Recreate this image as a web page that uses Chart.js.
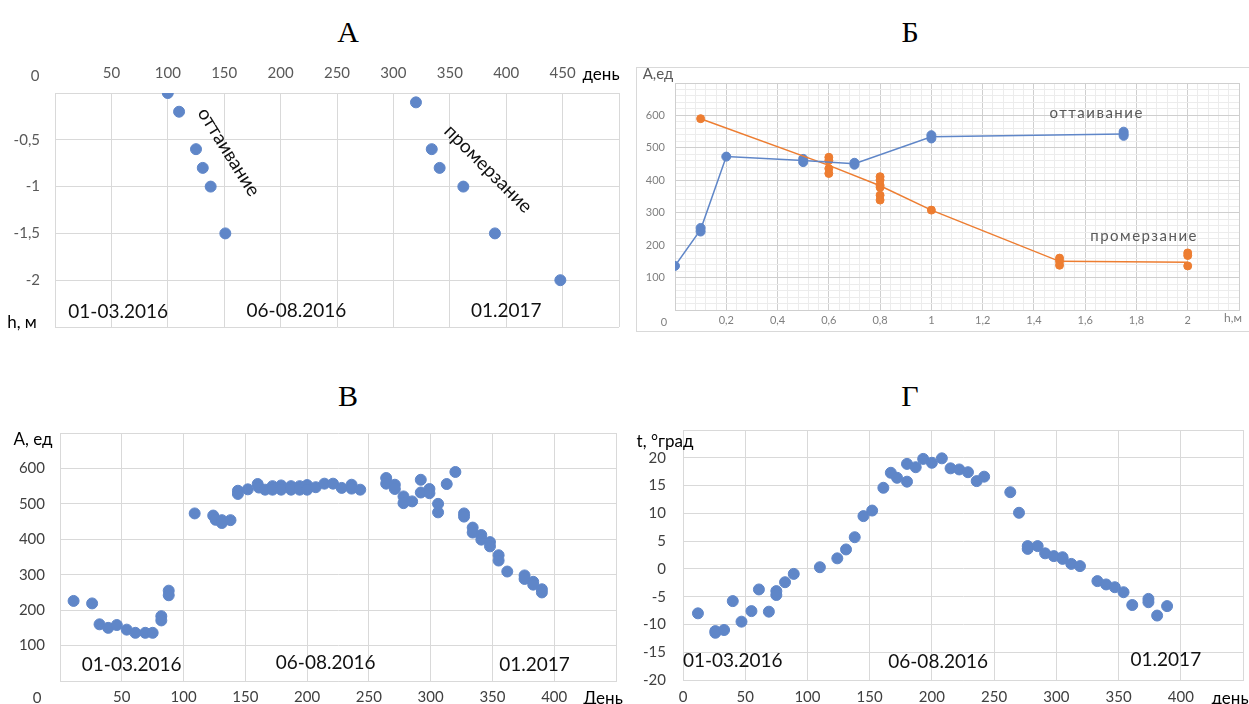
<!DOCTYPE html>
<html lang="ru">
<head>
<meta charset="utf-8">
<script src="https://cdn.jsdelivr.net/npm/chart.js@4.4.0/dist/chart.umd.min.js"></script>
<style>
  body { margin: 0; background: #fff; width: 1249px; height: 704px; overflow: hidden; position: relative; font-family: Lato, "Open Sans", sans-serif; }
  .title { position: absolute; font-family: "Liberation Serif", serif; font-size: 30px; color: #000; transform: translate(-50%, -50%); }
  .lbl { position: absolute; transform: translate(-50%, -50%); white-space: nowrap; }
  canvas { position: absolute; display: block; }
  .frame { position: absolute; left: 636px; top: 67px; width: 613px; height: 265px; border-top: 1px solid #d9d9d9; border-left: 1px solid #d9d9d9; border-bottom: 1px solid #d9d9d9; box-sizing: border-box; }
</style>
</head>
<body>
<div class="title" style="left:348px;top:32px">А</div>
<div class="title" style="left:910px;top:32px">Б</div>
<div class="title" style="left:348px;top:396px">В</div>
<div class="title" style="left:910px;top:396px">Г</div>

<div class="frame"></div>

<canvas id="chartA" width="625" height="285" style="left:0;top:55px"></canvas>
<canvas id="chartB" width="613" height="270" style="left:636px;top:62px"></canvas>
<canvas id="chartC" width="625" height="284" style="left:0;top:420px"></canvas>
<canvas id="chartD" width="624" height="284" style="left:625px;top:420px"></canvas>

<!-- axis titles -->
<div class="lbl" style="left:35px;top:75px;font-size:15px;color:#595959">0</div>
<div class="lbl" style="left:601px;top:73px;font-size:17px">день</div>
<div class="lbl" style="left:22px;top:321px;font-size:17px">h, м</div>

<div class="lbl" style="left:658px;top:73px;font-size:15px;color:#595959">A,ед</div>
<div class="lbl" style="left:664px;top:321px;font-size:11px;color:#7f7f7f">0</div>
<div class="lbl" style="left:1233px;top:317px;font-size:12px;color:#7f7f7f">h,м</div>

<div class="lbl" style="left:33px;top:438px;font-size:17px">A, ед</div>
<div class="lbl" style="left:37px;top:697px;font-size:15px;color:#404040">0</div>
<div class="lbl" style="left:603px;top:697px;font-size:17px">День</div>

<div class="lbl" style="left:665px;top:440px;font-size:17px">t, °град</div>
<div class="lbl" style="left:1230px;top:697px;font-size:17px">день</div>

<script>
// А: глубина оттаивания / промерзания, день -> h, м
const thawDays = [100, 110, 125, 131, 138, 151];
const thawDepth = [0, -0.2, -0.6, -0.8, -1.0, -1.5];
const freezeDays = [320, 334, 341, 362, 390, 448];
const freezeDepth = [-0.1, -0.6, -0.8, -1.0, -1.5, -2.0];

// Б: A от h (линии по средним + отдельные замеры)
const thawLineH = [0, 0.1, 0.2, 0.5, 0.7, 1.0, 1.75];
const thawLineA = [136, 248, 473, 461, 451, 534, 543];
const thawPtsH = [0, 0.1, 0.1, 0.2, 0.5, 0.5, 0.7, 0.7, 1.0, 1.0, 1.75, 1.75, 1.75];
const thawPtsA = [136, 253, 242, 473, 466, 456, 454, 448, 539, 529, 550, 543, 537];
const freezeLineH = [0.1, 0.6, 0.8, 1.0, 1.5, 2.0];
const freezeLineA = [590, 446, 383, 308, 150, 147];
const freezePtsH = [0.1, 0.6, 0.6, 0.6, 0.6, 0.8, 0.8, 0.8, 0.8, 0.8, 0.8, 1.0, 1.5, 1.5, 1.5, 2.0, 2.0, 2.0];
const freezePtsA = [590, 471, 461, 436, 421, 411, 401, 385, 378, 354, 339, 308, 160, 150, 138, 176, 168, 136];

// В: A, ед по дням
const ampDays = [11, 26, 32, 39, 46, 54, 61, 69, 75, 82, 82, 88, 88, 109, 124, 126, 131, 131, 138, 144, 144, 152,
  160, 161, 166, 172, 172, 179, 179, 187, 187, 194, 194, 200, 200, 207, 214, 221, 228, 236, 236, 243,
  264, 264, 271, 271, 278, 278, 285, 292, 292, 299, 299, 306, 306, 313, 320, 327, 327, 334, 334,
  341, 341, 348, 348, 355, 355, 362, 376, 376, 383, 383, 390, 390];
const ampValues = [226, 219, 160, 150, 158, 145, 136, 136, 136, 183, 171, 255, 242, 473, 467, 455, 454, 446, 454, 537, 528, 541,
  556, 546, 540, 550, 540, 552, 540, 550, 540, 550, 540, 553, 540, 547, 557, 557, 545, 554, 543, 540,
  573, 557, 554, 542, 521, 502, 507, 568, 532, 542, 530, 500, 476, 556, 590, 473, 464, 433, 419,
  412, 399, 392, 380, 355, 340, 309, 298, 288, 280, 272, 259, 250];

// Г: температура t, °град по дням
const tempDays = [12, 26, 26, 33, 40, 47, 55, 61, 69, 75, 75, 82, 89, 110, 124, 131, 138, 145, 152, 161, 167, 172,
  180, 180, 187, 193, 200, 208, 215, 222, 229, 236, 242, 263, 270, 277, 277, 285, 291, 298, 305, 305,
  312, 319, 333, 340, 347, 354, 361, 374, 374, 381, 389];
const tempValues = [-8.0, -11.5, -11.2, -11.0, -5.8, -9.5, -7.6, -3.7, -7.7, -4.0, -4.7, -2.4, -0.9, 0.3, 1.9, 3.5, 5.7, 9.5, 10.5, 14.6, 17.3, 16.4,
  15.7, 18.9, 18.3, 19.8, 19.1, 19.9, 18.1, 17.9, 17.4, 15.8, 16.6, 13.8, 10.1, 3.6, 4.1, 4.1, 2.8, 2.3, 2.1, 1.8,
  0.9, 0.5, -2.2, -2.8, -3.3, -4.2, -6.5, -5.4, -6.0, -8.4, -6.7];

const BLUE = '#5f86c8';
const ORANGE = '#ed7d31';
const GRID = '#d9d9d9';
const FONT = 'Lato';

function pts(xs, ys) {
  return xs.map((x, i) => ({ x: x, y: ys[i] }));
}
function comma(v) {
  return String(Number(v.toFixed(2))).replace('.', ',');
}
// фиксированные размеры осей, без добавочных отступов от подписей
function fixX(h) {
  return s => { s.height = h; s.paddingLeft = 0; s.paddingRight = 0; };
}
function fixY(w) {
  return s => { s.width = w; s.paddingTop = 0; s.paddingBottom = 0; };
}

// подписи внутри области построения, в координатах данных
function notesPlugin(items) {
  return {
    id: 'notes',
    afterDatasetsDraw(chart) {
      const ctx = chart.ctx;
      items.forEach(n => {
        ctx.save();
        ctx.translate(chart.scales.x.getPixelForValue(n.x), chart.scales.y.getPixelForValue(n.y));
        ctx.rotate((n.rot || 0) * Math.PI / 180);
        ctx.font = n.font;
        ctx.fillStyle = n.color || '#111';
        if (n.spacing) ctx.letterSpacing = n.spacing;
        ctx.textAlign = 'center';
        ctx.textBaseline = 'middle';
        ctx.fillText(n.text, 0, 0);
        ctx.restore();
      });
    }
  };
}

const dateFont = '19px ' + FONT;
const baseOpts = {
  animation: false,
  responsive: false,
  plugins: { legend: { display: false }, tooltip: { enabled: false } }
};

// ---- А ----
new Chart(document.getElementById('chartA'), {
  type: 'scatter',
  data: {
    datasets: [
      { data: pts(thawDays, thawDepth), backgroundColor: BLUE, borderColor: BLUE, pointRadius: 5.5 },
      { data: pts(freezeDays, freezeDepth), backgroundColor: BLUE, borderColor: BLUE, pointRadius: 5.5 }
    ]
  },
  options: Object.assign({}, baseOpts, {
    layout: { autoPadding: false, padding: { top: 0, left: 0, right: 6, bottom: 13 } },
    scales: {
      x: {
        type: 'linear', position: 'top', min: 0, max: 500,
        ticks: { stepSize: 50, autoSkip: false, maxRotation: 0, padding: 11, color: '#595959', font: { family: FONT, size: 15 },
          callback: v => (v > 0 && v < 500) ? v : '' },
        grid: { color: GRID, drawTicks: false }, border: { color: GRID },
        afterFit: fixX(38)
      },
      y: {
        min: -2.5, max: 0,
        ticks: { stepSize: 0.5, autoSkip: false, padding: 15, color: '#595959', font: { family: FONT, size: 15 },
          callback: v => (v < 0 && v > -2.5) ? comma(v) : '' },
        grid: { color: GRID, drawTicks: false }, border: { color: GRID },
        afterFit: fixY(55)
      }
    }
  }),
  plugins: [notesPlugin([
    { text: 'оттаивание', x: 154, y: -0.63, rot: 58, font: dateFont },
    { text: 'промерзание', x: 384, y: -0.81, rot: 45, font: dateFont },
    { text: '01-03.2016', x: 56, y: -2.34, font: dateFont },
    { text: '06-08.2016', x: 214, y: -2.33, font: dateFont },
    { text: '01.2017', x: 400, y: -2.33, font: dateFont }
  ])]
});

// ---- Б ----
const isMajorH = v => Math.abs(v * 5 - Math.round(v * 5)) < 1e-6;
const isMajorA = v => Math.abs(v / 100 - Math.round(v / 100)) < 1e-6;
new Chart(document.getElementById('chartB'), {
  type: 'scatter',
  data: {
    datasets: [
      { data: pts(thawLineH, thawLineA), showLine: true, borderColor: BLUE, borderWidth: 1.5, pointRadius: 0 },
      { data: pts(freezeLineH, freezeLineA), showLine: true, borderColor: ORANGE, borderWidth: 1.5, pointRadius: 0 },
      { data: pts(thawPtsH, thawPtsA), backgroundColor: BLUE, borderColor: BLUE, pointRadius: 4.5 },
      { data: pts(freezePtsH, freezePtsA), backgroundColor: ORANGE, borderColor: ORANGE, pointRadius: 4 }
    ]
  },
  options: Object.assign({}, baseOpts, {
    layout: { autoPadding: false, padding: { top: 21, left: 0, right: 10, bottom: 0 } },
    scales: {
      x: {
        type: 'linear', min: 0, max: 2.2,
        ticks: { stepSize: 0.04, autoSkip: false, maxRotation: 0, padding: 4, color: '#7f7f7f', font: { family: FONT, size: 11 },
          callback: v => (v > 0.01 && v < 2.1 && isMajorH(v)) ? comma(v) : '' },
        grid: { drawTicks: false, color: c => isMajorH(c.tick.value) ? '#cfcfcf' : '#ececec' },
        border: { color: '#cfcfcf' },
        afterFit: fixX(22)
      },
      y: {
        min: 0, max: 700,
        ticks: { stepSize: 20, autoSkip: false, padding: 10, color: '#7f7f7f', font: { family: FONT, size: 11 },
          callback: v => (v > 0 && v < 700 && isMajorA(v)) ? v : '' },
        grid: { drawTicks: false, color: c => isMajorA(c.tick.value) ? '#cfcfcf' : '#ececec' },
        border: { color: '#cfcfcf' },
        afterFit: fixY(39)
      }
    }
  }),
  plugins: [notesPlugin([
    { text: 'оттаивание', x: 1.645, y: 607, font: '15px ' + FONT, color: '#595959', spacing: '1.5px' },
    { text: 'промерзание', x: 1.83, y: 228, font: '15px ' + FONT, color: '#595959', spacing: '1.5px' }
  ])]
});

// ---- В ----
new Chart(document.getElementById('chartC'), {
  type: 'scatter',
  data: {
    datasets: [
      { data: pts(ampDays, ampValues), backgroundColor: BLUE, borderColor: BLUE, pointRadius: 5.5 }
    ]
  },
  options: Object.assign({}, baseOpts, {
    layout: { autoPadding: false, padding: { top: 13, left: 0, right: 9, bottom: 0 } },
    scales: {
      x: {
        type: 'linear', min: 0, max: 450,
        ticks: { stepSize: 50, autoSkip: false, maxRotation: 0, padding: 7, color: '#404040', font: { family: FONT, size: 15 },
          callback: v => (v > 0 && v < 450) ? v : '' },
        grid: { color: GRID, drawTicks: false }, border: { color: GRID },
        afterFit: fixX(23)
      },
      y: {
        min: 0, max: 700,
        ticks: { stepSize: 100, autoSkip: false, padding: 15, color: '#404040', font: { family: FONT, size: 15 },
          callback: v => (v > 0 && v < 700) ? v : '' },
        grid: { color: GRID, drawTicks: false }, border: { color: GRID },
        afterFit: fixY(60)
      }
    }
  }),
  plugins: [notesPlugin([
    { text: '01-03.2016', x: 58, y: 45, font: dateFont },
    { text: '06-08.2016', x: 215, y: 51, font: dateFont },
    { text: '01.2017', x: 384, y: 45, font: dateFont }
  ])]
});

// ---- Г ----
new Chart(document.getElementById('chartD'), {
  type: 'scatter',
  data: {
    datasets: [
      { data: pts(tempDays, tempValues), backgroundColor: BLUE, borderColor: BLUE, pointRadius: 5.5 }
    ]
  },
  options: Object.assign({}, baseOpts, {
    layout: { autoPadding: false, padding: { top: 10, left: 0, right: 6, bottom: 0 } },
    scales: {
      x: {
        type: 'linear', min: 0, max: 450,
        ticks: { stepSize: 50, autoSkip: false, maxRotation: 0, padding: 8, color: '#404040', font: { family: FONT, size: 15 },
          callback: v => (v < 450) ? v : '' },
        grid: { color: GRID, drawTicks: false }, border: { color: GRID },
        afterFit: fixX(24)
      },
      y: {
        min: -20, max: 25,
        ticks: { stepSize: 5, autoSkip: false, padding: 17, color: '#404040', font: { family: FONT, size: 15 },
          callback: v => (v < 25) ? v : '' },
        grid: { color: GRID, drawTicks: false }, border: { color: GRID },
        afterFit: fixY(58)
      }
    }
  }),
  plugins: [notesPlugin([
    { text: '01-03.2016', x: 40, y: -16.6, font: dateFont },
    { text: '06-08.2016', x: 205, y: -16.8, font: dateFont },
    { text: '01.2017', x: 388, y: -16.4, font: dateFont }
  ])]
});
</script>
</body>
</html>
